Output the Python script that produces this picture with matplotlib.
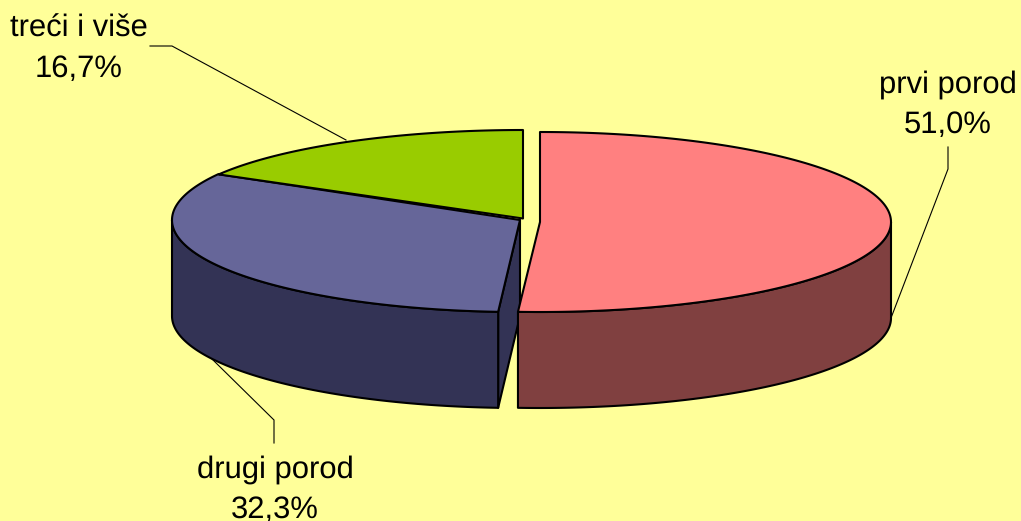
import numpy as np
import matplotlib
matplotlib.use("Agg")
import matplotlib.pyplot as plt
from matplotlib.patches import Polygon

categories = ["prvi porod", "drugi porod", "treći i više"]
values = [51.0, 32.3, 16.7]
value_labels = ["51,0%", "32,3%", "16,7%"]

BG = "#FFFF99"
TOP = ["#FF8080", "#666699", "#99CC00"]
SIDE = ["#804040", "#333355", "#4D6600"]
CENTER = [(540, 222), (520, 220), (523, 218.5)]
RADII = [(351, 90), (348, 92), (351, 88.5)]
DEPTH = 96
EDGE = 1.5

plt.rcParams["text.hinting"] = "none"
plt.rcParams["text.hinting_factor"] = 1

fig = plt.figure(figsize=(10.21, 5.21), dpi=100, facecolor=BG)
ax = fig.add_axes([0, 0, 1, 1])
ax.set_xlim(0, 1021)
ax.set_ylim(521, 0)
ax.axis("off")

total = sum(values)
edges = np.concatenate([[0], np.cumsum(values)]) / total * 360


def arc(i, start, stop, dy=0):
    t = np.radians(np.linspace(start, stop, 200))
    cx, cy = CENTER[i]
    a, b = RADII[i]
    return np.column_stack([cx + a * np.sin(t), cy - b * np.cos(t) + dy])


def patch(pts, face, z):
    ax.add_patch(Polygon(pts, closed=True, facecolor=face, edgecolor="black",
                         linewidth=EDGE, joinstyle="round", zorder=z))


def wall(i, start, stop, z):
    patch(np.vstack([arc(i, start, stop), arc(i, start, stop, DEPTH)[::-1]]), SIDE[i], z)


def top(i, z):
    patch(np.vstack([[CENTER[i]], arc(i, edges[i], edges[i + 1])]), TOP[i], z)


# second slice: cut face, outer wall, top
c = np.array(CENTER[1], float)
p = arc(1, edges[1], edges[1])[0]
patch([c, p, p + [0, DEPTH], c + [0, DEPTH]], SIDE[1], 1)
wall(1, edges[1], 270, 2)
top(1, 3)
# third slice
top(2, 4)
# first slice
wall(0, 90, edges[1], 5)
top(0, 6)

# leader lines
for xs, ys in [([948, 948, 891], [147, 169, 318]),
               ([274, 274, 212], [443, 420, 359]),
               ([150, 172, 346], [46, 46, 140])]:
    ax.plot(xs, ys, color="black", lw=0.8, zorder=7, solid_joinstyle="miter")

# labels (name baseline, value baseline)
positions = [(947.5, 93, 133), (275, 478, 518), (79, 37, 77)]
for (x, y1, y2), name, val in zip(positions, categories, value_labels):
    ax.text(x, y1, name, ha="center", va="baseline", fontsize=22.3,
            family="Liberation Sans", color="black", zorder=8)
    ax.text(x, y2, val, ha="center", va="baseline", fontsize=22.3,
            family="Liberation Sans", color="black", zorder=8)

fig.savefig("out.png", dpi=100, facecolor=BG)
